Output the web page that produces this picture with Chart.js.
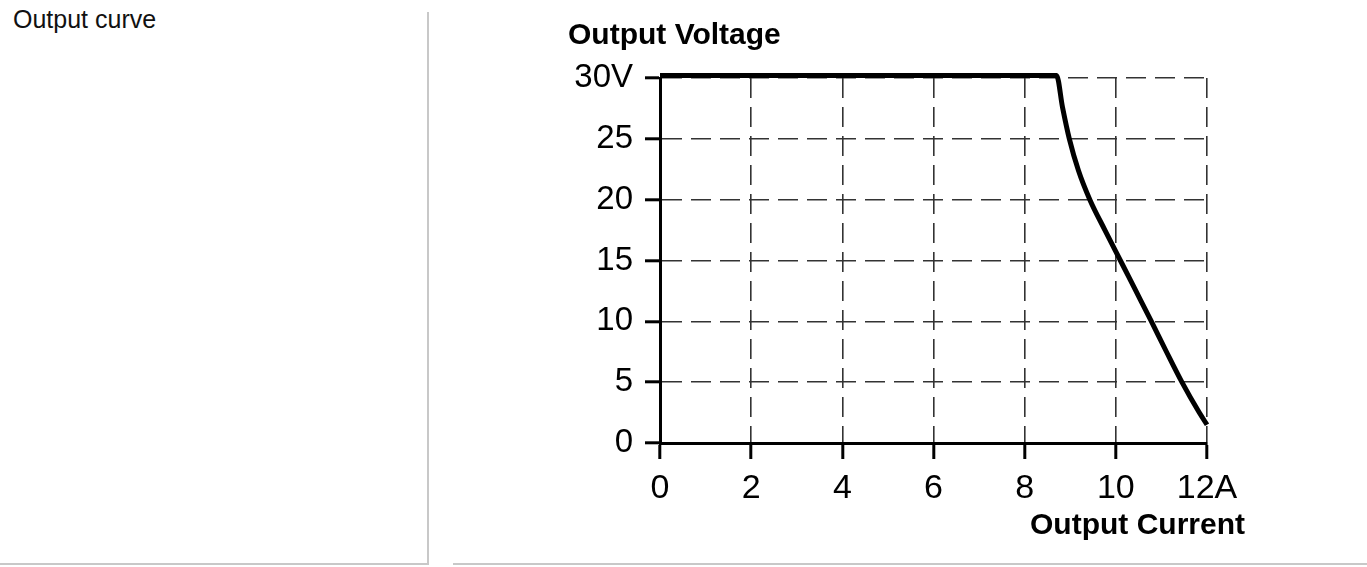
<!DOCTYPE html>
<html>
<head>
<meta charset="utf-8">
<script src="https://cdn.jsdelivr.net/npm/chart.js@4"></script>
<style>
    body { margin: 0; background: #fff; font-family: "Liberation Sans", Arial, sans-serif; }
    #leftTitle { position: absolute; left: 13px; top: 5px; font-size: 25px; color: #111; }
    #sep { position: absolute; left: 427px; top: 12px; width: 2px; height: 552px; background: #c8c8c8; }
    #lineL { position: absolute; left: 0; top: 563px; width: 429px; height: 2px; background: #c8c8c8; }
    #lineR { position: absolute; left: 453px; top: 563px; width: 914px; height: 2px; background: #c8c8c8; }
    #wrap { position: absolute; left: 453px; top: 0; width: 914px; height: 560px; }
</style>
</head>
<body>
<div id="leftTitle">Output curve</div>
<div id="sep"></div>
<div id="lineL"></div>
<div id="lineR"></div>
<div id="wrap"><canvas id="outputCurveChart" width="914" height="560"></canvas></div>
<script>
// Output curve: voltage vs current
const currentA = [0, 8.7, 8.83, 8.98, 9.18, 9.43, 9.76, 10.1, 10.44, 10.78, 11.11, 11.45, 11.83, 12];
const voltageV = [30.2, 30.2, 27.6, 25, 22.4, 20, 17.5, 15, 12.5, 10, 7.5, 5, 2.5, 1.5];
const xTicks = [0, 2, 4, 6, 8, 10, 12];
const yTicks = [0, 5, 10, 15, 20, 25, 30];

const fontFamily = '"Liberation Sans", Arial, sans-serif';

// axis captions drawn next to the plot area
const axisCaptions = {
    id: 'axisCaptions',
    afterDraw: function(chart) {
        const ctx = chart.ctx;
        const area = chart.chartArea;
        ctx.save();
        ctx.fillStyle = '#000';
        ctx.font = 'bold 30px ' + fontFamily;
        ctx.textBaseline = 'alphabetic';
        ctx.textAlign = 'left';
        ctx.fillText('Output Voltage', area.left - 92, 44);
        ctx.textAlign = 'right';
        ctx.fillText('Output Current', area.right + 38, 534);
        ctx.restore();
    }
};

const ctx = document.getElementById('outputCurveChart').getContext('2d');
new Chart(ctx, {
    type: 'line',
    data: {
        datasets: [{
            data: currentA.map(function(x, i) { return { x: x, y: voltageV[i] }; }),
            borderColor: '#000',
            borderWidth: 5,
            pointRadius: 0,
            cubicInterpolationMode: 'monotone',
            clip: false,
            fill: false
        }]
    },
    options: {
        responsive: false,
        animation: false,
        layout: {
            padding: { left: 0, top: 78, right: 160, bottom: 0 }
        },
        plugins: {
            legend: { display: false },
            tooltip: { enabled: false }
        },
        scales: {
            x: {
                type: 'linear',
                min: 0,
                max: 12,
                afterBuildTicks: function(scale) {
                    scale.ticks = xTicks.map(function(v) { return { value: v }; });
                },
                afterFit: function(scale) { scale.height = 117; },
                grid: {
                    color: '#333',
                    lineWidth: 1.6,
                    tickColor: '#000',
                    tickWidth: 3,
                    tickLength: 16
                },
                border: { color: '#000', width: 3, dash: [20, 9] },
                ticks: {
                    color: '#000',
                    padding: 9,
                    maxRotation: 0,
                    font: { family: fontFamily, size: 34 },
                    callback: function(value) { return value === 12 ? '12A' : value; }
                }
            },
            y: {
                type: 'linear',
                min: 0,
                max: 30,
                afterBuildTicks: function(scale) {
                    scale.ticks = yTicks.map(function(v) { return { value: v }; });
                },
                afterFit: function(scale) { scale.width = 207; },
                grid: {
                    color: '#333',
                    lineWidth: 1.6,
                    tickColor: '#000',
                    tickWidth: 3,
                    tickLength: 15
                },
                border: { color: '#000', width: 3, dash: [20, 9] },
                ticks: {
                    color: '#000',
                    padding: 12,
                    font: { family: fontFamily, size: 33 },
                    callback: function(value) { return value === 30 ? '30V' : value; }
                }
            }
        }
    },
    plugins: [axisCaptions]
});
</script>
</body>
</html>
